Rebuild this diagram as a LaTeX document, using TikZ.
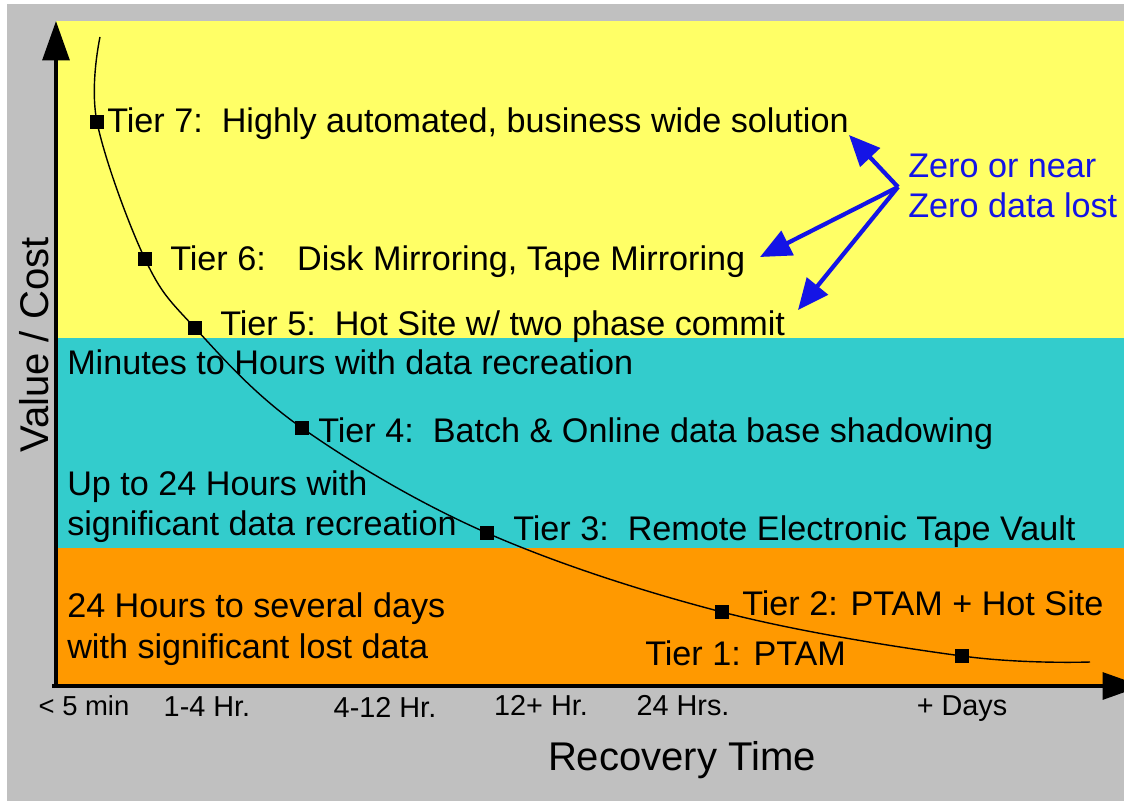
\documentclass[tikz,border=0pt]{standalone}
\usepackage{fontspec}
\setmainfont{Liberation Sans}
\usetikzlibrary{arrows.meta}
\definecolor{bggray}{RGB}{192,192,192}
\definecolor{tieryellow}{RGB}{255,255,102}
\definecolor{tiercyan}{RGB}{51,204,204}
\definecolor{tierorange}{RGB}{255,153,0}
\definecolor{zeroblue}{RGB}{20,20,230}

\begin{document}
\begin{tikzpicture}[x=0.025cm, y=-0.025cm]
  \tikzset{tier text/.style={anchor=base west, inner sep=0pt, font=\fontsize{24.3}{28}\selectfont},
    tick text/.style={anchor=base, inner sep=0pt, font=\fontsize{20.5}{24}\selectfont},
    axis title/.style={anchor=base, inner sep=0pt, font=\fontsize{28.5}{32}\selectfont},
    tier mark/.style={rectangle, fill=black, minimum size=9.5pt, inner sep=0pt},
    axis arrow/.style={line width=2.8pt, -{Triangle[length=28pt,width=19pt]}},
    zero arrow/.style={zeroblue, line width=3pt, -{Triangle[length=22pt,width=19pt]}}}
  \useasboundingbox (0,0) rectangle (1124,801);
  \fill[bggray] (7,4) rectangle (1124,801);
  \fill[tieryellow] (56,21) rectangle (1124,338);
  \fill[tiercyan] (56,338) rectangle (1124,548);
  \fill[tierorange] (56,548) rectangle (1124,686);
  \coordinate (p7) at (97,122);
  \coordinate (p6) at (145,259);
  \coordinate (p5) at (195,328);
  \coordinate (p4) at (302,428);
  \coordinate (p3) at (487,533);
  \coordinate (p2) at (722,612);
  \coordinate (p1) at (962,656);
  \draw[line width=1pt] plot[smooth, tension=0.6] coordinates {(100,37) (p7) (p6) (p5) (p4) (p3) (p2) (p1) (1090,662)};
  \foreach \t in {1,...,7}
    \node[tier mark] (t\t) at (p\t) {};
  \node[tier text] (l7) at (107,133) {Tier 7:\ \ Highly automated, business wide solution};
  \node[tier text] (l6) at (170,270) {Tier 6:\ \ \ \hspace{2pt}Disk Mirroring, Tape Mirroring};
  \node[tier text] (l5) at (220,335) {Tier 5:\ \ Hot Site w/ two phase commit};
  \node[tier text] (l4) at (318,442) {Tier 4:\ \ Batch \& Online data base shadowing};
  \node[tier text] (l3) at (513,540) {Tier 3:\ \ Remote Electronic Tape Vault};
  \node[tier text] (l2) at (742,615) {Tier 2: PTAM + Hot Site};
  \node[tier text] (l1) at (645,665) {Tier 1: PTAM};
  \node[tier text] (zmin) at (67,374) {Minutes to Hours with data recreation};
  \node[tier text] (zhrs) at (67,495) {Up to 24 Hours with};
  \node[tier text] (zhrs2) at (67,535) {significant data recreation};
  \node[tier text] (zday) at (67,617) {24 Hours to several days};
  \node[tier text] (zday2) at (67,658) {with significant lost data};
  \node[tier text, text=zeroblue] (zero) at (908,178) {Zero or near};
  \node[tier text, text=zeroblue] (zero2) at (908,218) {Zero data lost};
  \coordinate (hub) at (898,187);
  \coordinate (a7) at (849,135);
  \coordinate (a6) at (760,257);
  \coordinate (a5) at (798,310);
  \draw[zero arrow] (hub) -- (a7);
  \draw[zero arrow] (hub) -- (a6);
  \draw[zero arrow] (hub) -- (a5);
  \coordinate (origin) at (56,686);
  \coordinate (ytop) at (56,21);
  \coordinate (xend) at (1142,686);
  \draw[axis arrow] (56,688) -- (ytop);
  \draw[axis arrow] (52,686) -- (xend);
  \node[tick text, font=\fontsize{19.5}{23}\selectfont] (k0) at (84,715) {< 5 min};
  \node[tick text] (k1) at (207,716) {1-4 Hr.};
  \node[tick text] (k2) at (385,717) {4-12 Hr.};
  \node[tick text] (k3) at (541,715) {12+ Hr.};
  \node[tick text] (k4) at (683,715) {24 Hrs.};
  \node[tick text] (k5) at (962,715) {+ Days};
  \node[axis title] (xtitle) at (682,770) {Recovery Time};
  \node[axis title, rotate=90] (ytitle) at (48,345) {Value / Cost};
\end{tikzpicture}
\end{document}
